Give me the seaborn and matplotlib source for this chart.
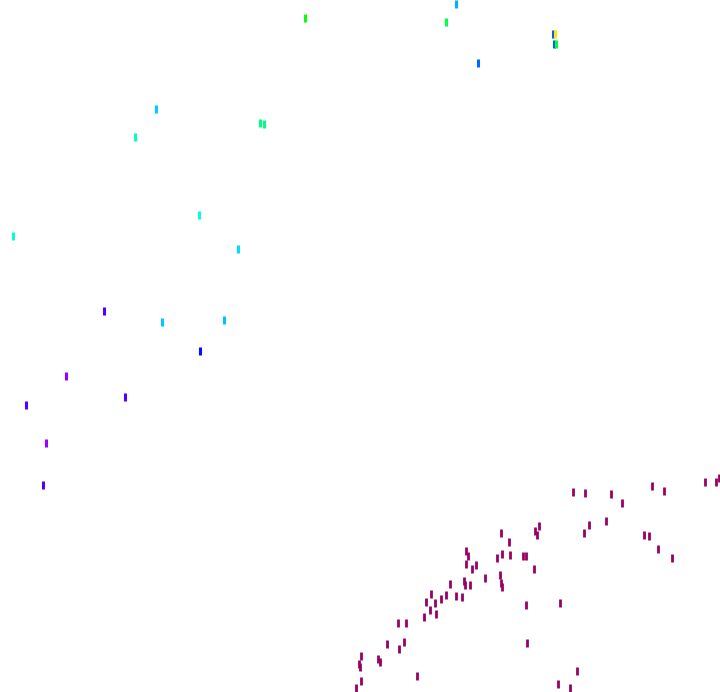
import matplotlib
matplotlib.use("Agg")
import matplotlib.pyplot as plt
import seaborn as sns
import pandas as pd
import numpy as np

# coloured points: x, y (pixel-like units) and hue angle in degrees
hue_x = [305, 456, 446, 553, 555, 554, 556, 478, 156, 135, 260, 264,
         199, 238, 13, 104, 162, 224, 200, 66, 125, 26, 46, 43]
hue_y = [18, 4, 22, 34, 34, 44, 44, 63, 109, 137, 123, 124,
         215, 249, 236, 311, 322, 320, 351, 376, 397, 405, 443, 485]
hue_val = [122, 202, 140, 222, 55, 222, 135, 218, 195, 168, 152, 152,
           178, 190, 175, 262, 196, 198, 240, 280, 262, 262, 282, 262]

# dark magenta cloud
mag_x = [719, 716, 705, 652, 664, 573, 585, 611, 622, 589, 606, 539, 535, 537,
         584, 644, 649, 658, 672, 501, 509, 466, 468, 497, 502, 510, 523, 526,
         466, 476, 472, 534, 500, 485, 464, 465, 470, 501, 502, 450, 431, 446,
         456, 462, 441, 426, 435, 430, 424, 436, 526, 560, 398, 406, 387, 404,
         399, 527, 361, 378, 380, 359, 360, 417, 577, 361, 356, 558, 570]
mag_y = [478, 482, 482, 486, 491, 492, 493, 494, 503, 525, 521, 526, 531, 535,
         533, 535, 536, 549, 558, 533, 542, 551, 556, 558, 554, 555, 556, 556,
         564, 565, 569, 569, 575, 578, 581, 585, 585, 583, 587, 584, 594, 595,
         596, 597, 599, 602, 603, 610, 617, 614, 605, 603, 623, 623, 644, 642,
         649, 643, 656, 659, 662, 664, 667, 676, 671, 681, 688, 684, 688]


def main():
    rainbow = pd.DataFrame({"x": hue_x, "y": hue_y, "h": hue_val})
    cloud = pd.DataFrame({"x": mag_x, "y": mag_y})

    fig = plt.figure(figsize=(7.2, 6.92), dpi=100)
    ax = fig.add_axes([0, 0, 1, 1])

    sns.scatterplot(data=cloud, x="x", y="y", color="#990066", marker="|",
                    s=30, linewidth=2, ax=ax, legend=False)
    sns.scatterplot(data=rainbow, x="x", y="y", hue="h", palette="hsv",
                    hue_norm=(0, 360), marker="|", s=30, linewidth=2.2,
                    ax=ax, legend=False)

    ax.set_xlim(0, 720)
    ax.set_ylim(692, 0)
    ax.axis("off")
    plt.savefig("out.png", dpi=100)


if __name__ == '__main__':
    main()
